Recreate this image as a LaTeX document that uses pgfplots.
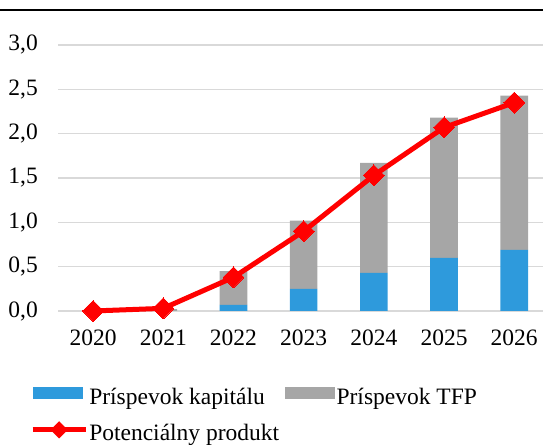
\documentclass[border=0pt]{standalone}
\usepackage{pgfplots}
\pgfplotsset{compat=1.18}
\usepackage{fontspec}
\setmainfont{Liberation Serif}
\definecolor{capblue}{HTML}{2E9ADC}
\definecolor{tfpgray}{HTML}{A6A6A6}
\definecolor{gridgray}{HTML}{D9D9D9}
\newcommand{\chfont}{\fontsize{23.5bp}{28bp}\selectfont}
\pgfplotsset{
  barleg/.style={legend image code/.code={\fill[##1] (0bp,-2bp) rectangle (50bp,10bp);}},
  lineleg/.style={legend image code/.code={\draw[##1, mark repeat=2, mark phase=2] plot coordinates {(0bp,3bp) (26.5bp,3bp) (53bp,3bp)};}},
}
\begin{document}
\begin{tikzpicture}[x=1bp,y=1bp]
\useasboundingbox (0,0) rectangle (543,445);
\draw[line width=2.3bp] (0,434.8) -- (543,434.8);
\pgfplotsset{base/.style={scale only axis, width=485bp, height=266bp,
  at={(58bp,134bp)}, anchor=south west,
  xmin=-0.5, xmax=6.41, ymin=0, ymax=3, clip=false}}
\begin{axis}[base, ybar stacked, bar width=27.6bp,
  axis line style={draw=none}, major tick length=0pt,
  tick pos=left,
  ymajorgrids, grid style={gridgray, line width=1.1bp},
  xtick={0,1,2,3,4,5,6},
  xticklabels={2020,2021,2022,2023,2024,2025,2026},
  ytick={0,0.5,1,1.5,2,2.5,3},
  ticklabel style={font=\chfont},
  xticklabel style={inner sep=0pt, anchor=north, yshift=-19bp},
  yticklabel style={inner sep=0pt, anchor=east, xshift=-20bp,
    /pgf/number format/fixed, /pgf/number format/fixed zerofill,
    /pgf/number format/precision=1, /pgf/number format/use comma,
    /pgf/number format/assume math mode=true},
]
\addplot[fill=capblue, draw=none] coordinates {(0,0) (1,0) (2,0.07) (3,0.25) (4,0.43) (5,0.60) (6,0.69)};
\addplot[fill=tfpgray, draw=none] coordinates {(0,0) (1,0.02) (2,0.38) (3,0.77) (4,1.24) (5,1.58) (6,1.74)};
\end{axis}
\begin{axis}[base, hide axis,
  legend columns=2, legend cell align=left,
  legend style={draw=none, fill=none, inner sep=0pt, font=\chfont,
    at={(axis description cs:-0.058,-0.283)}, anchor=north west,
    nodes={inner sep=1.2bp},
    /tikz/every even column/.append style={column sep=5bp},
    row sep=16bp},
]
\addlegendimage{fill=capblue, draw=none, barleg}
\addlegendentry{Príspevok kapitálu}
\addlegendimage{fill=tfpgray, draw=none, barleg}
\addlegendentry{Príspevok TFP}
\addlegendimage{red, line width=5bp, mark=square*, mark options={rotate=45, mark size=3.6bp}, lineleg}
\addlegendentry{Potenciálny produkt}
\addplot[red, line width=5bp, mark=square*, mark options={rotate=45, mark size=7.4bp, line width=0pt}, forget plot]
  coordinates {(0,0) (1,0.03) (2,0.38) (3,0.90) (4,1.53) (5,2.07) (6,2.35)};
\end{axis}
\end{tikzpicture}
\end{document}
